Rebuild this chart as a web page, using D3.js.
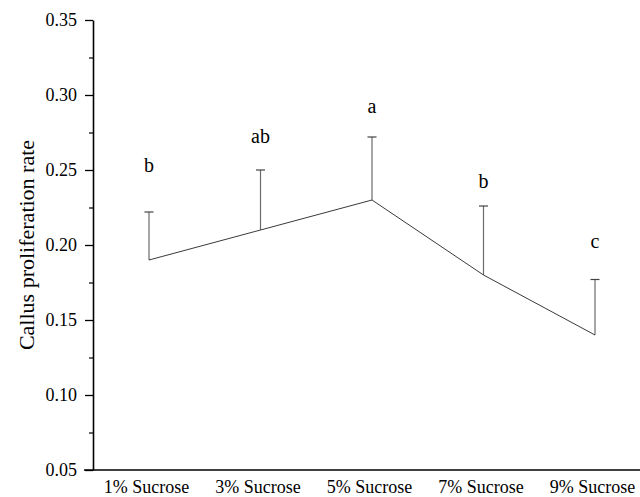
<!DOCTYPE html>
<html>
<head>
<meta charset="utf-8">
<script src="https://cdn.jsdelivr.net/npm/d3@7"></script>
<style>
  html, body { margin: 0; padding: 0; background: #fff; }
  svg { display: block; }
  svg text { font-family: "Liberation Serif", "Times New Roman", serif !important; }
</style>
</head>
<body>
<svg id="chart" width="640" height="497"></svg>
<script>
// Sucrose treatments and mean callus proliferation rate
const categories = ["1% Sucrose", "3% Sucrose", "5% Sucrose", "7% Sucrose", "9% Sucrose"];
const meanRate = [0.190, 0.210, 0.230, 0.180, 0.140];
const errorUp = [0.032, 0.040, 0.042, 0.046, 0.037];
// Significance letters and the height (in rate units) at which each is written
const sigLetters = ["b", "ab", "a", "b", "c"];
const letterHeight = [0.249, 0.268, 0.288, 0.238, 0.198];
const yTicks = [0.05, 0.10, 0.15, 0.20, 0.25, 0.30, 0.35];
const yMinorTicks = [0.075, 0.125, 0.175, 0.225, 0.275, 0.325];

const svg = d3.select("#chart");

const x = d3.scalePoint().domain(categories).range([149, 595]);
const y = d3.scaleLinear().domain([0.05, 0.35]).range([470, 20]);

// Y axis with major ticks and labels
const yAxis = svg.append("g")
  .attr("transform", "translate(93,0)")
  .call(d3.axisLeft(y).tickValues(yTicks).tickFormat(d3.format(".2f")).tickSize(8).tickSizeOuter(0).tickPadding(8));
yAxis.select(".domain").attr("stroke", "#000").attr("stroke-width", 1.6);
yAxis.selectAll(".tick line").attr("stroke", "#000").attr("stroke-width", 1.3);
yAxis.selectAll(".tick text")
  .attr("font-size", 18).attr("fill", "#000");

// Minor ticks
const yMinor = svg.append("g")
  .attr("transform", "translate(93,0)")
  .call(d3.axisLeft(y).tickValues(yMinorTicks).tickSize(4).tickFormat(""));
yMinor.select(".domain").remove();
yMinor.selectAll(".tick line").attr("stroke", "#000").attr("stroke-width", 1.2);

// X axis (no ticks, category labels only)
const xAxis = svg.append("g")
  .attr("transform", `translate(0,${y(0.05)})`)
  .call(d3.axisBottom(x).tickSize(0).tickPadding(10));
xAxis.select(".domain").remove();
xAxis.selectAll(".tick text")
  .attr("font-size", 18).attr("fill", "#000")
  .attr("dx", -3);
svg.append("line")
  .attr("x1", 84).attr("x2", 640)
  .attr("y1", y(0.05)).attr("y2", y(0.05))
  .attr("stroke", "#000").attr("stroke-width", 1.6);

// Y axis title
svg.append("text")
  .attr("transform", `translate(34,${(y(0.05) + y(0.35)) / 2}) rotate(-90)`)
  .attr("text-anchor", "middle")
  .attr("font-size", 22)
  .attr("fill", "#000")
  .text("Callus proliferation rate");

// Upper error bars
const bars = svg.append("g");
categories.forEach((c, i) => {
  const cx = x(c);
  bars.append("line")
    .attr("x1", cx).attr("x2", cx)
    .attr("y1", y(meanRate[i])).attr("y2", y(meanRate[i] + errorUp[i]))
    .attr("stroke", "#6b6b6b").attr("stroke-width", 1.2);
  bars.append("line")
    .attr("x1", cx - 4.5).attr("x2", cx + 4.5)
    .attr("y1", y(meanRate[i] + errorUp[i])).attr("y2", y(meanRate[i] + errorUp[i]))
    .attr("stroke", "#444").attr("stroke-width", 1.2);
});

// Mean line
svg.append("path")
  .datum(meanRate)
  .attr("fill", "none")
  .attr("stroke", "#3a3a3a")
  .attr("stroke-width", 1)
  .attr("d", d3.line().x((d, i) => x(categories[i])).y(d => y(d)));

// Significance letters
svg.append("g").selectAll("text")
  .data(sigLetters)
  .join("text")
  .attr("x", (d, i) => x(categories[i]))
  .attr("y", (d, i) => y(letterHeight[i]))
  .attr("text-anchor", "middle")
  .attr("font-size", 20)
  .attr("fill", "#000")
  .text(d => d);
</script>
</body>
</html>
